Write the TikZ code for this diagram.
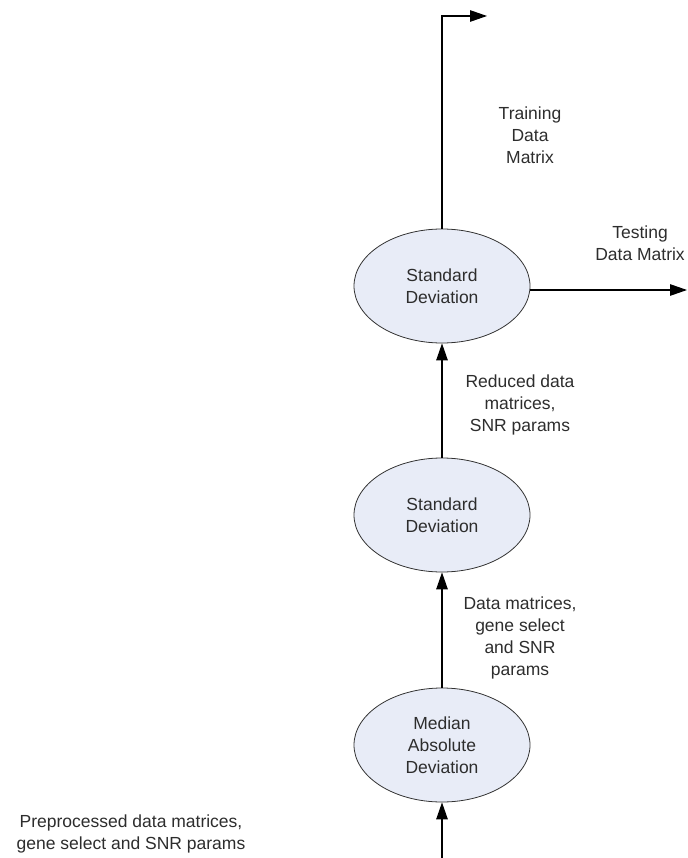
\documentclass[tikz,border=0pt]{standalone}
\usepackage{fontspec}
\setmainfont{Liberation Sans}
\usetikzlibrary{arrows.meta,shapes.geometric}
\definecolor{ellfill}{RGB}{232,236,247}
\definecolor{txt}{RGB}{45,45,45}
\begin{document}
\begin{tikzpicture}[x=1pt,y=-1pt,
  proc/.style={ellipse,draw=black!80,line width=0.8pt,fill=ellfill,minimum width=176pt,minimum height=114pt,inner sep=0pt,align=center,font=\fontsize{17.5}{22}\selectfont,text=txt},
  lbl/.style={align=center,font=\fontsize{17.5}{22}\selectfont,text=txt,inner sep=0pt},
  flow/.style={-{Triangle[length=17pt,width=11.5pt]},line width=1.2pt}]
\useasboundingbox (0,0) rectangle (687,858);
\node[proc] (sd1) at (442,286) {Standard\\Deviation};
\node[proc] (sd2) at (442,515) {Standard\\Deviation};
\node[proc] (mad) at (442,745) {Median\\Absolute\\Deviation};
\coordinate (topend) at (487,16);
\coordinate (rightend) at (687,290);
\coordinate (bottomstart) at (442,858);
\draw[flow] (sd1.north) |- (topend);
\draw[flow] (sd1.east |- rightend) -- (rightend);
\draw[flow] (sd2.north) -- (sd1.south);
\draw[flow] (mad.north) -- (sd2.south);
\draw[flow] (bottomstart) -- (mad.south);
\node[lbl] (l1) at (530,135) {Training\\Data\\Matrix};
\node[lbl] (l2) at (640,243) {Testing\\Data Matrix};
\node[lbl] (l3) at (520,405) {Reduced data\\matrices,\\SNR params};
\node[lbl] (l4) at (520,638) {Data matrices,\\gene select\\and SNR\\params};
\node[lbl] (l5) at (131,834) {Preprocessed data matrices,\\gene select and SNR params};
\end{tikzpicture}
\end{document}
